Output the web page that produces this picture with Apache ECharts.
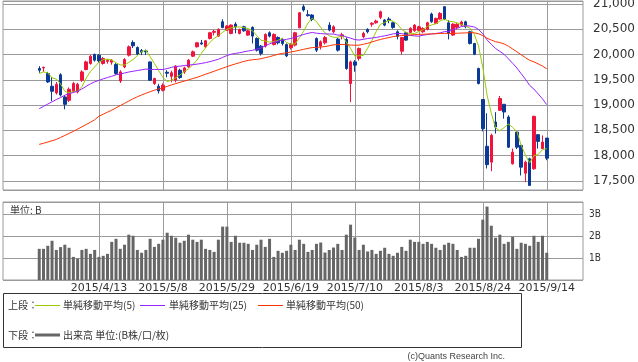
<!DOCTYPE html>
<html><head><meta charset="utf-8">
<script src="https://cdn.jsdelivr.net/npm/echarts@6/dist/echarts.min.js"></script>
<style>html,body{margin:0;padding:0;background:#fff}#c{width:638px;height:362px}</style>
</head><body><div id="c"></div>
<script>
const dates = ['2015/3/24','2015/3/25','2015/3/26','2015/3/27','2015/3/30','2015/3/31',
'2015/4/1','2015/4/2','2015/4/3','2015/4/6','2015/4/7','2015/4/8','2015/4/9','2015/4/10',
'2015/4/13','2015/4/14','2015/4/15','2015/4/16','2015/4/17','2015/4/20','2015/4/21','2015/4/22','2015/4/23','2015/4/24',
'2015/4/27','2015/4/28','2015/4/30','2015/5/1','2015/5/7','2015/5/8',
'2015/5/11','2015/5/12','2015/5/13','2015/5/14','2015/5/15','2015/5/18','2015/5/19','2015/5/20','2015/5/21','2015/5/22',
'2015/5/25','2015/5/26','2015/5/27','2015/5/28','2015/5/29',
'2015/6/1','2015/6/2','2015/6/3','2015/6/4','2015/6/5','2015/6/8','2015/6/9','2015/6/10','2015/6/11','2015/6/12',
'2015/6/15','2015/6/16','2015/6/17','2015/6/18','2015/6/19','2015/6/22','2015/6/23','2015/6/24','2015/6/25','2015/6/26',
'2015/6/29','2015/6/30','2015/7/1','2015/7/2','2015/7/3',
'2015/7/6','2015/7/7','2015/7/8','2015/7/9','2015/7/10','2015/7/13','2015/7/14','2015/7/15','2015/7/16','2015/7/17',
'2015/7/21','2015/7/22','2015/7/23','2015/7/24','2015/7/27','2015/7/28','2015/7/29','2015/7/30','2015/7/31',
'2015/8/3','2015/8/4','2015/8/5','2015/8/6','2015/8/7','2015/8/10','2015/8/11','2015/8/12','2015/8/13','2015/8/14',
'2015/8/17','2015/8/18','2015/8/19','2015/8/20','2015/8/21','2015/8/24','2015/8/25','2015/8/26','2015/8/27','2015/8/28',
'2015/8/31','2015/9/1','2015/9/2','2015/9/3','2015/9/4','2015/9/7','2015/9/8','2015/9/9','2015/9/10','2015/9/11','2015/9/14'];

const open = [19724,19735,19625,19373,19240,19600,19161,19095,19274,19260,
19492,19704,19823,20002,19988,19823,19865,19850,19803,19477,
19756,19988,20240,20140,20080,20070,19855,19427,19373,19294,
19650,19570,19492,19690,19657,19756,19968,20153,20230,20153,
20319,20440,20365,20649,20484,20418,20603,20418,20550,20385,
20537,20319,20167,20167,20431,20200,20339,20299,20200,20134,
20187,20530,20947,20790,20782,20319,20167,20233,20583,20451,
20306,20360,20299,19427,19855,19923,20352,20498,20600,20629,
20736,20683,20703,20629,20451,20067,20431,20438,20471,20478,
20451,20498,20802,20617,20702,20947,20629,20385,20540,20583,
20649,20451,20220,19724,19110,18185,17871,18665,18897,19016,
18764,17840,18466,18203,17653,17938,17740,18415,18137,18347];

const close = [19690,19748,19458,19274,19413,19200,19016,19314,19427,19413,
19657,19855,19968,19889,19875,19922,19885,19890,19625,19657,
19902,20153,20173,20008,20050,20055,19492,19526,19280,19393,
19630,19640,19770,19545,19736,19890,20054,20233,20210,20272,
20431,20460,20498,20537,20564,20583,20550,20498,20470,20470,
20365,20087,20022,20398,20365,20398,20233,20220,19974,20200,
20431,20828,20881,20770,20696,20087,20252,20339,20484,20550,
20087,20390,19724,19855,19790,20121,20418,20451,20620,20663,
20847,20583,20675,20537,20360,20339,20286,20518,20583,20550,
20517,20629,20649,20716,20815,20702,20418,20603,20600,20643,
20550,20220,20008,19427,18534,17822,18401,18566,19129,18863,
18168,18069,18168,17772,17871,17410,18778,18282,18268,17950];

const low = [19640,19657,19438,19081,19208,19170,18917,19060,19240,19230,
19460,19690,19800,19860,19840,19800,19820,19800,19600,19438,
19730,19960,20130,19990,19990,19990,19480,19400,19230,19270,
19550,19450,19450,19520,19620,19740,19950,20140,20190,20130,
20300,20380,20350,20520,20470,20400,20420,20400,20450,20370,
20220,20060,19980,20140,20340,20180,20200,20180,19950,20100,
20160,20520,20850,20750,20660,20050,20100,20200,20460,20420,
20060,20300,19700,19060,19660,19880,20320,20420,20550,20610,
20700,20560,20620,20510,20300,20000,20270,20420,20450,20460,
20430,20480,20630,20600,20690,20680,20300,20370,20500,20560,
20520,20200,19990,19410,18480,17746,17693,18437,18883,18732,
18150,17820,18130,17607,17475,17400,17720,18140,18130,17910];

const high = [19770,19760,19657,19557,19458,19630,19195,19350,19460,19440,
19690,19880,19990,20020,20010,19950,19910,19910,19830,19690,
19930,20180,20280,20160,20110,20100,19860,19540,19420,19430,
19690,19680,19790,19720,19760,19910,20080,20250,20290,20290,
20450,20490,20520,20700,20580,20600,20640,20510,20570,20490,
20560,20340,20190,20420,20460,20420,20360,20330,20220,20230,
20450,20840,20990,20880,20800,20340,20280,20370,20640,20580,
20330,20430,20340,19880,19890,20140,20450,20520,20640,20690,
20870,20700,20740,20650,20480,20350,20450,20540,20600,20570,
20540,20650,20830,20730,20840,20960,20680,20620,20620,20670,
20670,20470,20230,19740,19120,18837,18434,18860,19180,19020,
18800,18140,18480,18210,17900,17960,18790,18420,18400,18350];

const volume = [1.43,1.43,1.57,1.80,1.38,1.51,1.62,1.48,1.06,0.98,
1.38,1.43,1.20,1.38,1.06,1.11,1.20,1.75,1.89,1.43,
1.62,2.08,2.03,1.38,1.25,1.38,1.89,1.52,1.66,1.85,
2.17,2.03,1.94,1.71,1.80,2.08,1.85,1.75,1.85,1.43,
1.38,1.29,1.85,2.45,2.45,1.75,2.03,1.71,1.71,1.66,
1.38,1.62,1.85,1.52,1.89,1.06,1.34,1.25,1.34,1.62,
1.38,1.85,1.66,1.29,1.38,1.66,1.72,1.26,1.38,1.49,
1.66,1.38,2.08,2.54,1.95,1.38,1.62,1.31,1.38,1.20,
1.34,1.48,1.20,1.11,1.25,1.52,1.34,1.85,1.75,1.75,
1.66,1.75,1.66,1.48,1.38,1.62,1.71,1.66,1.38,1.06,
1.11,1.48,1.48,1.89,2.77,3.37,2.49,1.94,2.08,1.66,
1.75,1.98,1.43,1.71,1.66,1.57,2.03,1.75,2.03,1.25];

const ma5 = [19625,19657,19640,19540,19517,19419,19272,19243,19274,19274,
19365,19533,19664,19756,19849,19902,19908,19892,19839,19796,
19792,19845,19902,19979,20057,20088,19956,19826,19681,19549,
19464,19494,19543,19596,19664,19716,19799,19892,20025,20132,
20240,20321,20374,20440,20498,20528,20546,20546,20533,20514,
20471,20378,20283,20268,20247,20254,20283,20323,20238,20205,
20212,20331,20463,20622,20721,20652,20537,20429,20372,20342,
20342,20370,20247,20121,19969,19976,19982,20127,20280,20455,
20600,20633,20678,20661,20600,20499,20439,20408,20417,20455,
20491,20559,20586,20612,20665,20702,20660,20651,20628,20593,
20563,20523,20404,20170,19748,19202,18838,18550,18490,18556,
18625,18559,18479,18208,18010,17858,18000,18023,18122,18138];

const ma25 = [18930,18975,19020,19065,19110,19150,19195,19225,19250,19275,
19320,19370,19420,19460,19490,19520,19545,19570,19600,19615,
19635,19655,19670,19685,19698,19713,19703,19706,19706,19705,
19722,19747,19765,19770,19783,19792,19800,19811,19824,19840,
19860,19883,19907,19944,19980,20007,20023,20036,20055,20071,
20084,20108,20128,20172,20211,20242,20266,20284,20301,20319,
20341,20372,20398,20420,20437,20423,20415,20409,20407,20406,
20386,20380,20349,20324,20297,20287,20301,20318,20327,20338,
20356,20370,20389,20411,20418,20414,20392,20378,20370,20364,
20382,20397,20409,20418,20429,20454,20455,20490,20520,20554,
20571,20563,20545,20498,20412,20291,20204,20120,20063,20004,
19917,19828,19734,19622,19514,19390,19316,19221,19123,19009];

const ma50 = [18222,18245,18270,18295,18320,18360,18400,18440,18480,18525,
18570,18615,18660,18710,18780,18820,18860,18900,18945,18990,
19035,19080,19125,19165,19200,19235,19265,19295,19320,19345,
19370,19400,19425,19450,19475,19500,19525,19550,19580,19610,
19640,19670,19700,19730,19760,19790,19815,19840,19865,19885,
19898,19905,19917,19939,19958,19982,20006,20024,20035,20051,
20067,20086,20104,20122,20138,20142,20149,20158,20175,20193,
20197,20202,20193,20189,20184,20186,20204,20223,20249,20275,
20299,20318,20336,20356,20368,20377,20382,20388,20395,20401,
20402,20406,20409,20412,20417,20420,20417,20419,20422,20425,
20429,20432,20431,20412,20375,20324,20287,20254,20237,20211,
20165,20110,20056,19996,19939,19886,19856,19815,19771,19719];

const labelDates = ['2015/4/13','2015/5/8','2015/5/29','2015/6/19','2015/7/10','2015/8/3','2015/8/24','2015/9/14'];
const priceTicks = [17500,18000,18500,19000,19500,20000,20500,21000];
const volumeTicks = [1,2,3];

const RED = '#f0143c', BLUE = '#0a3a96', GRID = '#9a9a9a';
const JP = '"Noto Sans CJK JP", sans-serif';
const PAD = 8;
const cats = [];
for (let k = 0; k < PAD; k++) cats.push('pre' + k);
dates.forEach(d => cats.push(d));
for (let k = 0; k < PAD; k++) cats.push('post' + k);
const half = [];
for (let k = 0; k <= cats.length * 2; k++) half.push(k % 2 === 1 ? cats[(k - 1) / 2] : 'edge' + k);
const isLabel = (i, v) => labelDates.indexOf(v) >= 0;
const fmtNum = v => String(v).replace(/\B(?=(\d{3})+(?!\d))/g, ',');
const noAxis = {axisLine:{show:false}, axisTick:{show:false}, axisLabel:{show:false}};

const chart = echarts.init(document.getElementById('c'), null, {renderer:'canvas', width:638, height:362});
chart.setOption({
  animation:false,
  backgroundColor:'#fff',
  grid:[
    {left:3, top:1, width:580, height:189, show:true, borderColor:GRID, borderWidth:1, backgroundColor:'#fff', containLabel:false, outerBoundsMode:'none'},
    {left:3, top:202, width:580, height:78, show:true, borderColor:GRID, borderWidth:1, backgroundColor:'#fff', containLabel:false, outerBoundsMode:'none'}
  ],
  xAxis:[
    Object.assign({gridIndex:0, type:'category', data:cats, boundaryGap:true, splitLine:{show:false}}, noAxis),
    Object.assign({gridIndex:0, type:'category', data:half, boundaryGap:false, position:'top',
      splitLine:{show:true, interval:isLabel, lineStyle:{color:GRID, width:1}}}, noAxis),
    {gridIndex:1, type:'category', data:cats, boundaryGap:true, axisLine:{show:false}, axisTick:{show:false},
      axisLabel:{show:true, interval:isLabel, margin:3, fontSize:11, color:'#333', fontFamily:'DejaVu Sans'}, splitLine:{show:false}},
    Object.assign({gridIndex:1, type:'category', data:half, boundaryGap:false, position:'top',
      splitLine:{show:true, interval:isLabel, lineStyle:{color:GRID, width:1}}}, noAxis)
  ],
  yAxis:[
    {gridIndex:0, type:'value', position:'right', min:17320, max:21060, minInterval:500, maxInterval:500, splitNumber:7,
      axisLine:{show:false}, axisTick:{show:false},
      axisLabel:{margin:10, fontSize:12, color:'#333', fontFamily:'DejaVu Sans',
        formatter:v => priceTicks.indexOf(v) >= 0 ? fmtNum(v) : ''},
      splitLine:{show:true, lineStyle:{color:GRID, width:1}}},
    {gridIndex:1, type:'value', position:'right', min:0, max:3.58, interval:1,
      axisLine:{show:false}, axisTick:{show:false},
      axisLabel:{margin:6, fontSize:10, color:'#333', fontFamily:'DejaVu Sans Condensed',
        formatter:v => volumeTicks.indexOf(v) >= 0 ? v + 'B' : ''},
      splitLine:{show:true, lineStyle:{color:GRID, width:1}}}
  ],
  series:[
    {type:'candlestick', xAxisIndex:0, yAxisIndex:0, barWidth:3,
      data:dates.map((d,i) => [i + PAD, open[i], close[i], low[i], high[i]]),
      encode:{x:0, y:[1,2,3,4]},
      itemStyle:{color:RED, color0:BLUE, borderColor:RED, borderColor0:BLUE, borderWidth:1}, z:2},
    {type:'line', name:'単純移動平均(5)', xAxisIndex:0, yAxisIndex:0, data:ma5.map((v,i) => [i + PAD, v]),
      symbol:'none', lineStyle:{color:'#99cc00', width:1}, z:3},
    {type:'line', name:'単純移動平均(25)', xAxisIndex:0, yAxisIndex:0, data:ma25.map((v,i) => [i + PAD, v]),
      symbol:'none', lineStyle:{color:'#9922ff', width:1}, z:3},
    {type:'line', name:'単純移動平均(50)', xAxisIndex:0, yAxisIndex:0, data:ma50.map((v,i) => [i + PAD, v]),
      symbol:'none', lineStyle:{color:'#ff3300', width:1}, z:3},
    {type:'bar', name:'出来高', xAxisIndex:2, yAxisIndex:1, barWidth:3,
      data:volume.map((v,i) => [i + PAD, v]), itemStyle:{color:'#666'}}
  ],
  graphic:[
    {type:'text', x:10, y:210, style:{text:'単位: B', font:'10px ' + JP, fill:'#333', verticalAlign:'middle'}},
    {type:'rect', shape:{x:3.5, y:293.5, width:518, height:54}, style:{fill:'none', stroke:'#333', lineWidth:1}},
    {type:'text', x:8, y:305, style:{text:'上段：', font:'10px ' + JP, fill:'#333', verticalAlign:'middle'}},
    {type:'line', shape:{x1:35, y1:305.5, x2:60, y2:305.5}, style:{stroke:'#99cc00', lineWidth:1}},
    {type:'text', x:63, y:305, style:{text:'単純移動平均(5)', font:'10px ' + JP, fill:'#333', verticalAlign:'middle'}},
    {type:'line', shape:{x1:140, y1:305.5, x2:165, y2:305.5}, style:{stroke:'#9922ff', lineWidth:1}},
    {type:'text', x:169, y:305, style:{text:'単純移動平均(25)', font:'10px ' + JP, fill:'#333', verticalAlign:'middle'}},
    {type:'line', shape:{x1:258, y1:305.5, x2:283, y2:305.5}, style:{stroke:'#ff3300', lineWidth:1}},
    {type:'text', x:286, y:305, style:{text:'単純移動平均(50)', font:'10px ' + JP, fill:'#333', verticalAlign:'middle'}},
    {type:'text', x:8, y:335, style:{text:'下段：', font:'10px ' + JP, fill:'#333', verticalAlign:'middle'}},
    {type:'line', shape:{x1:35, y1:335, x2:60, y2:335}, style:{stroke:'#666', lineWidth:3}},
    {type:'text', x:63, y:335, style:{text:'出来高 単位:(B株/口/枚)', font:'10px ' + JP, fill:'#333', verticalAlign:'middle'}},
    {type:'text', x:505, y:357, style:{text:'(c)Quants Research Inc.', font:'9px "Liberation Sans", sans-serif', fill:'#444', align:'right', verticalAlign:'middle'}}
  ]
});
</script>
</body></html>
